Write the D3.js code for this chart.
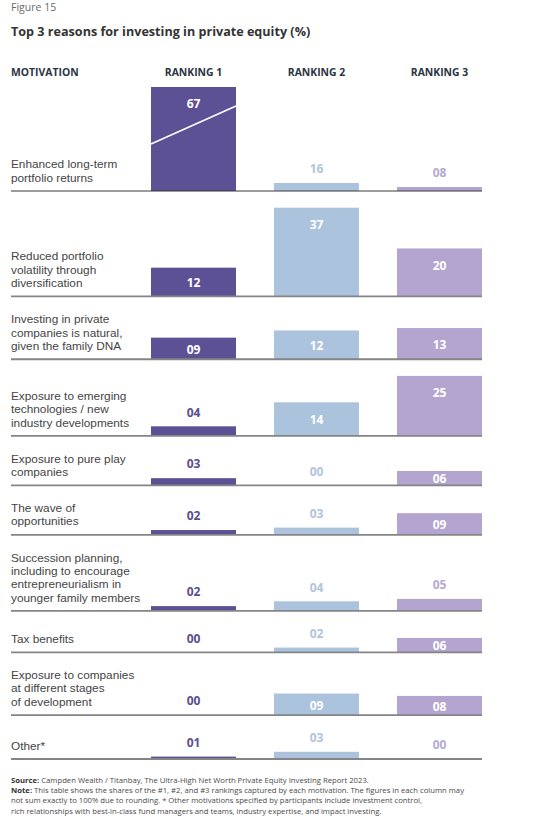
<!DOCTYPE html>
<html>
<head>
<meta charset="utf-8">
<script src="https://cdn.jsdelivr.net/npm/d3@7"></script>
<style>
  html, body { margin: 0; padding: 0; background: #ffffff; }
  svg { display: block; font-family: "Open Sans", "Noto Sans", sans-serif; }
</style>
</head>
<body>
<svg id="chart" width="536" height="828"></svg>
<script>
// ---------- DATA ----------
const figureLabel = "Figure 15";
const title = "Top 3 reasons for investing in private equity (%)";
const headerMotivation = "MOTIVATION";
const rankings = ["RANKING 1", "RANKING 2", "RANKING 3"];
const motivations = [
  ["Enhanced long-term", "portfolio returns"],
  ["Reduced portfolio", "volatility through", "diversification"],
  ["Investing in private", "companies is natural,", "given the family DNA"],
  ["Exposure to emerging", "technologies / new", "industry developments"],
  ["Exposure to pure play", "companies"],
  ["The wave of", "opportunities"],
  ["Succession planning,", "including to encourage", "entrepreneurialism in", "younger family members"],
  ["Tax benefits"],
  ["Exposure to companies", "at different stages", "of development"],
  ["Other*"]
];
const ranking1 = [67, 12, 9, 4, 3, 2, 2, 0, 0, 1];
const ranking2 = [16, 37, 12, 14, 0, 3, 4, 2, 9, 3];
const ranking3 = [8, 20, 13, 25, 6, 9, 5, 6, 8, 0];
const sourceLabel = "Source:";
const sourceText = " Campden Wealth / Titanbay, The Ultra-High Net Worth Private Equity Investing Report 2023.";
const noteLabel = "Note:";
const noteLines = [
  " This table shows the shares of the #1, #2, and #3 rankings captured by each motivation. The figures in each column may",
  "not sum exactly to 100% due to rounding. * Other motivations specified by participants include investment control,",
  "rich relationships with best-in-class fund managers and teams, industry expertise, and impact investing."
];

// ---------- LAYOUT / STYLE ----------
const series = [ranking1, ranking2, ranking3];
const barColors = ["#5d5196", "#abc3dd", "#b3a5d0"];
const outsideColors = ["#5a4f8e", "#b2c4da", "#b6aad2"];
const textColor = "#444444";
const left = 11, right = 482;
const firstBarTop = 87;
const lastBaseline = 759;
const lineH = 13.3;

const svg = d3.select("#chart");

// column scale
const x = d3.scaleBand().domain(rankings).range([151, 482]).paddingInner(0.309).paddingOuter(0);

// height scales: first row uses a broken (compressed) scale, the rest a linear one
const hTop = d3.scaleLinear().domain([0, 16, 67]).range([0, 8, 104]);
const h = d3.scaleLinear().domain([0, 10]).range([0, 24]);
const hFor = i => (i === 0 ? hTop : h);
const inside = px => px >= 14;

// compute row baselines
const n = motivations.length;
const baselines = [firstBarTop + hTop(d3.max(series, s => s[0]))];
const contents = motivations.map((lines, i) => {
  const textH = 19.5 + (lines.length - 1) * lineH;
  const barH = d3.max(series, s => {
    const px = hFor(i)(s[i]);
    return inside(px) ? px : px + 20;
  });
  return Math.max(textH, barH);
});
const restSum = d3.sum(contents.slice(1));
const gap = (lastBaseline - baselines[0] - restSum) / (n - 1);
for (let i = 1; i < n; i++) baselines.push(baselines[i - 1] + gap + contents[i]);

// ---------- HEADER ----------
svg.append("text").attr("x", left).attr("y", 11).attr("font-size", 10.5)
  .attr("fill", "#6a6a6a").text(figureLabel);
svg.append("text").attr("x", left).attr("y", 36).attr("font-size", 12.6)
  .attr("font-weight", 700).attr("fill", "#333").text(title);
svg.append("text").attr("x", left).attr("y", 76).attr("font-size", 10.4)
  .attr("font-weight", 700).attr("fill", "#2b3442").text(headerMotivation);
svg.selectAll("text.colhead").data(rankings).join("text").attr("class", "colhead")
  .attr("x", d => x(d) + x.bandwidth() / 2).attr("y", 76).attr("text-anchor", "middle")
  .attr("font-size", 10.4).attr("font-weight", 700).attr("fill", "#2b3442").text(d => d);

// ---------- ROWS ----------
const rows = svg.selectAll("g.row").data(motivations).join("g").attr("class", "row");

rows.each(function (lines, i) {
  const g = d3.select(this);
  const base = baselines[i];
  const hs = hFor(i);

  // motivation label
  const t = g.append("text").attr("font-size", 11.8).attr("fill", textColor)
    .attr("font-family", "'Liberation Sans', Arial, sans-serif");
  lines.forEach((ln, k) => {
    t.append("tspan").attr("x", left)
      .attr("y", base - 13.5 - (lines.length - 1 - k) * lineH).attr("dy", "0.35em").text(ln);
  });

  rankings.forEach((r, c) => {
    const v = series[c][i];
    const px = hs(v);
    const top = base - px;
    if (px > 0) {
      g.append("rect").attr("x", x(r)).attr("y", top).attr("width", x.bandwidth())
        .attr("height", px).attr("fill", barColors[c]);
    }
    // break line for truncated bar
    if (i === 0 && v > 16) {
      g.append("line").attr("x1", x(r)).attr("y1", top + 57).attr("x2", x(r) + x.bandwidth())
        .attr("y2", top + 19).attr("stroke", "#fff").attr("stroke-width", 1.6);
    }
    const isIn = inside(px);
    g.append("text").attr("x", x(r) + x.bandwidth() / 2)
      .attr("y", isIn ? top + Math.min(17, px / 2 + 1) : top - 14)
      .attr("dy", "0.35em").attr("text-anchor", "middle")
      .attr("font-size", 12).attr("font-weight", 700)
      .attr("fill", isIn ? "#ffffff" : outsideColors[c])
      .text(d3.format("02d")(v));
  });

  // baseline rule
  g.append("line").attr("x1", left).attr("x2", right).attr("y1", base).attr("y2", base)
    .attr("stroke", i === 0 ? "#3a3a3a" : "#858585").attr("stroke-width", i === 0 ? 1.2 : 1.8);
});

// ---------- FOOTER ----------
const fs = 7.7;
const foot = svg.append("g").attr("font-size", fs).attr("fill", "#4a4a4a");
const s1 = foot.append("text").attr("x", left).attr("y", 783);
s1.append("tspan").attr("font-weight", 700).attr("fill", "#333").text(sourceLabel);
s1.append("tspan").text(sourceText);
noteLines.forEach((ln, k) => {
  const tt = foot.append("text").attr("x", left).attr("y", 793 + k * 10.3);
  if (k === 0) tt.append("tspan").attr("font-weight", 700).attr("fill", "#333").text(noteLabel);
  tt.append("tspan").text(ln);
});
</script>
</body>
</html>
